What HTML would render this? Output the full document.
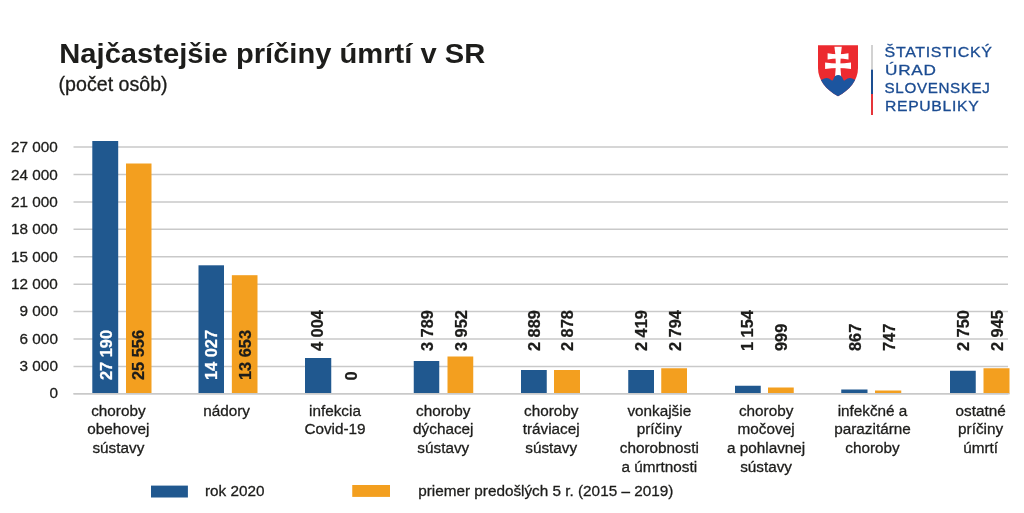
<!DOCTYPE html>
<html lang="sk"><head><meta charset="utf-8"><title>Najčastejšie príčiny úmrtí v SR</title>
<style>
html,body{margin:0;padding:0;background:#fff;}
body{width:1024px;height:513px;overflow:hidden;}
svg{display:block;font-family:"Liberation Sans",sans-serif;}
.t{font-weight:700;font-size:27.9px;fill:#1d1d1b}
.s{font-size:19.8px;fill:#1d1d1b}
.y{font-size:15.3px;fill:#1d1d1b;text-anchor:end}
.y,.c,.l,.s{stroke:#1d1d1b;stroke-width:0.3px}
.c{font-size:15.3px;fill:#1d1d1b;text-anchor:middle}
.l{font-size:15.3px;fill:#1d1d1b}
.v{font-weight:700;font-size:16.4px;stroke-width:0.25px}
.lg{font-size:14.1px;fill:#1b4c92;stroke:#1b4c92;stroke-width:0.3px;letter-spacing:0.6px}
</style></head><body>
<svg width="1024" height="513" viewBox="0 0 1024 513">
<rect width="1024" height="513" fill="#fff"/>
<text class="t" x="59.3" y="62.5" textLength="426" lengthAdjust="spacingAndGlyphs">Najčastejšie príčiny úmrtí v SR</text>
<text class="s" x="58.6" y="90.7" textLength="109" lengthAdjust="spacingAndGlyphs">(počet osôb)</text>
<g stroke="#c9c9c9" stroke-width="1.5">
<line x1="73.5" x2="1008" y1="147.10" y2="147.10"/>
<line x1="73.5" x2="1008" y1="174.52" y2="174.52"/>
<line x1="73.5" x2="1008" y1="201.93" y2="201.93"/>
<line x1="73.5" x2="1008" y1="229.35" y2="229.35"/>
<line x1="73.5" x2="1008" y1="256.77" y2="256.77"/>
<line x1="73.5" x2="1008" y1="284.19" y2="284.19"/>
<line x1="73.5" x2="1008" y1="311.60" y2="311.60"/>
<line x1="73.5" x2="1008" y1="339.02" y2="339.02"/>
<line x1="73.5" x2="1008" y1="366.44" y2="366.44"/>
<line x1="73.5" x2="1008" y1="393.85" y2="393.85"/>
</g>
<rect x="92.30" y="141.00" width="25.90" height="252.70" fill="#20588f"/>
<rect x="126.00" y="163.50" width="25.50" height="230.20" fill="#f39f1f"/>
<rect x="198.50" y="265.30" width="25.50" height="128.40" fill="#20588f"/>
<rect x="231.85" y="275.20" width="25.65" height="118.50" fill="#f39f1f"/>
<rect x="305.00" y="358.00" width="26.25" height="35.70" fill="#20588f"/>
<rect x="413.75" y="361.00" width="25.50" height="32.70" fill="#20588f"/>
<rect x="447.50" y="356.50" width="25.75" height="37.20" fill="#f39f1f"/>
<rect x="521.00" y="370.00" width="25.75" height="23.70" fill="#20588f"/>
<rect x="554.00" y="370.00" width="26.00" height="23.70" fill="#f39f1f"/>
<rect x="628.25" y="370.00" width="25.75" height="23.70" fill="#20588f"/>
<rect x="661.25" y="368.25" width="25.75" height="25.45" fill="#f39f1f"/>
<rect x="735.00" y="385.75" width="25.75" height="7.95" fill="#20588f"/>
<rect x="768.00" y="387.50" width="25.75" height="6.20" fill="#f39f1f"/>
<rect x="841.25" y="389.50" width="26.25" height="4.20" fill="#20588f"/>
<rect x="875.00" y="390.50" width="26.25" height="3.20" fill="#f39f1f"/>
<rect x="950.00" y="370.75" width="25.75" height="22.95" fill="#20588f"/>
<rect x="983.50" y="368.25" width="26.00" height="25.45" fill="#f39f1f"/>
<line x1="73.5" x2="1009.5" y1="393.85" y2="393.85" stroke="#c9c9c9" stroke-width="1.5"/>
<text class="y" x="57.9" y="152.40">27 000</text>
<text class="y" x="57.9" y="179.70">24 000</text>
<text class="y" x="57.9" y="207.00">21 000</text>
<text class="y" x="57.9" y="234.30">18 000</text>
<text class="y" x="57.9" y="261.60">15 000</text>
<text class="y" x="57.9" y="288.90">12 000</text>
<text class="y" x="57.9" y="316.20">9 000</text>
<text class="y" x="57.9" y="343.50">6 000</text>
<text class="y" x="57.9" y="370.80">3 000</text>
<text class="y" x="57.9" y="398.10">0</text>
<text class="v" fill="#fff" stroke="#fff" transform="translate(111.50 380.10) rotate(-90)">27 190</text>
<text class="v" fill="#1d1d1b" stroke="#1d1d1b" transform="translate(144.40 380.10) rotate(-90)">25 556</text>
<text class="v" fill="#fff" stroke="#fff" transform="translate(217.30 380.10) rotate(-90)">14 027</text>
<text class="v" fill="#1d1d1b" stroke="#1d1d1b" transform="translate(250.60 380.10) rotate(-90)">13 653</text>
<text class="v" fill="#1d1d1b" stroke="#1d1d1b" transform="translate(323.35 351.10) rotate(-90)">4 004</text>
<text class="v" fill="#1d1d1b" stroke="#1d1d1b" transform="translate(357.20 380.50) rotate(-90)">0</text>
<text class="v" fill="#1d1d1b" stroke="#1d1d1b" transform="translate(432.60 351.10) rotate(-90)">3 789</text>
<text class="v" fill="#1d1d1b" stroke="#1d1d1b" transform="translate(467.10 351.10) rotate(-90)">3 952</text>
<text class="v" fill="#1d1d1b" stroke="#1d1d1b" transform="translate(540.10 351.10) rotate(-90)">2 889</text>
<text class="v" fill="#1d1d1b" stroke="#1d1d1b" transform="translate(573.35 351.10) rotate(-90)">2 878</text>
<text class="v" fill="#1d1d1b" stroke="#1d1d1b" transform="translate(647.10 351.10) rotate(-90)">2 419</text>
<text class="v" fill="#1d1d1b" stroke="#1d1d1b" transform="translate(680.85 351.10) rotate(-90)">2 794</text>
<text class="v" fill="#1d1d1b" stroke="#1d1d1b" transform="translate(753.35 351.10) rotate(-90)">1 154</text>
<text class="v" fill="#1d1d1b" stroke="#1d1d1b" transform="translate(786.85 351.10) rotate(-90)">999</text>
<text class="v" fill="#1d1d1b" stroke="#1d1d1b" transform="translate(860.60 351.10) rotate(-90)">867</text>
<text class="v" fill="#1d1d1b" stroke="#1d1d1b" transform="translate(894.60 351.10) rotate(-90)">747</text>
<text class="v" fill="#1d1d1b" stroke="#1d1d1b" transform="translate(969.10 351.10) rotate(-90)">2 750</text>
<text class="v" fill="#1d1d1b" stroke="#1d1d1b" transform="translate(1003.35 351.10) rotate(-90)">2 945</text>
<text class="c" x="118.4" y="415.50">choroby</text>
<text class="c" x="118.4" y="434.25">obehovej</text>
<text class="c" x="118.4" y="453.00">sústavy</text>
<text class="c" x="226.6" y="415.50">nádory</text>
<text class="c" x="335.0" y="415.50">infekcia</text>
<text class="c" x="335.0" y="434.25">Covid-19</text>
<text class="c" x="443.3" y="415.50">choroby</text>
<text class="c" x="443.3" y="434.25">dýchacej</text>
<text class="c" x="443.3" y="453.00">sústavy</text>
<text class="c" x="551.2" y="415.50">choroby</text>
<text class="c" x="551.2" y="434.25">tráviacej</text>
<text class="c" x="551.2" y="453.00">sústavy</text>
<text class="c" x="659.3" y="415.50">vonkajšie</text>
<text class="c" x="659.3" y="434.25">príčiny</text>
<text class="c" x="659.3" y="453.00">chorobnosti</text>
<text class="c" x="659.3" y="471.75">a úmrtnosti</text>
<text class="c" x="766.1" y="415.50">choroby</text>
<text class="c" x="766.1" y="434.25">močovej</text>
<text class="c" x="766.1" y="453.00">a pohlavnej</text>
<text class="c" x="766.1" y="471.75">sústavy</text>
<text class="c" x="872.5" y="415.50">infekčné a</text>
<text class="c" x="872.5" y="434.25">parazitárne</text>
<text class="c" x="872.5" y="453.00">choroby</text>
<text class="c" x="980.6" y="415.50">ostatné</text>
<text class="c" x="980.6" y="434.25">príčiny</text>
<text class="c" x="980.6" y="453.00">úmrtí</text>
<rect x="151" y="485.6" width="36.9" height="11.9" fill="#20588f"/>
<text class="l" x="205" y="496">rok 2020</text>
<rect x="352.25" y="485" width="37.75" height="11.9" fill="#f39f1f"/>
<text class="l" x="418.2" y="496">priemer predošlých 5 r. (2015 – 2019)</text>
<defs><clipPath id="sh"><path d="M818,45.3 H858 V68 C858,80 850,90 838,96.2 C826,90 818,80 818,68 Z"/></clipPath></defs>
<g clip-path="url(#sh)">
<rect x="816" y="44" width="44" height="54" fill="#ec2a2f"/>

<g fill="#fff">
<path d="M834.4,46.8 H841.8 Q839.4,62 841.2,77 H835 Q836.8,62 834.4,46.8 Z"/>
<path d="M827.6,53.3 Q838,55.1 848.5,53.3 V59.5 Q838,57.7 827.6,59.5 Z"/>
<path d="M825.1,62.4 Q838,64.4 851,62.4 V69 Q838,67 825.1,69 Z"/>
</g>
<g fill="#1c559f"><path d="M816,81.4 Q820,81.2 822,79.6 Q826.8,76.2 831.2,79.9 Q832.5,81.3 833.2,79.6 C834.2,76.4 836,75.1 838.2,75.1 C840.4,75.1 842.2,76.4 843.2,79.6 Q843.9,81.3 845.2,79.9 Q849.6,76.2 854.4,79.6 Q856.4,81.2 860,81.4 V98 H816 Z"/></g>
</g>
<rect x="871" y="45" width="2" height="24.6" fill="#d2d2d2"/>
<rect x="871" y="69.6" width="2" height="24.4" fill="#1d4f91"/>
<rect x="871" y="94" width="2" height="21" fill="#e5353a"/>
<g class="lg">
<text x="884.6" y="56.7" textLength="108" lengthAdjust="spacingAndGlyphs">ŠTATISTICKÝ</text>
<text x="885" y="74.9" textLength="51.6" lengthAdjust="spacingAndGlyphs">ÚRAD</text>
<text x="884.6" y="93.3" textLength="106" lengthAdjust="spacingAndGlyphs">SLOVENSKEJ</text>
<text x="885" y="111.4" textLength="94.3" lengthAdjust="spacingAndGlyphs">REPUBLIKY</text>
</g>
</svg>
</body></html>
